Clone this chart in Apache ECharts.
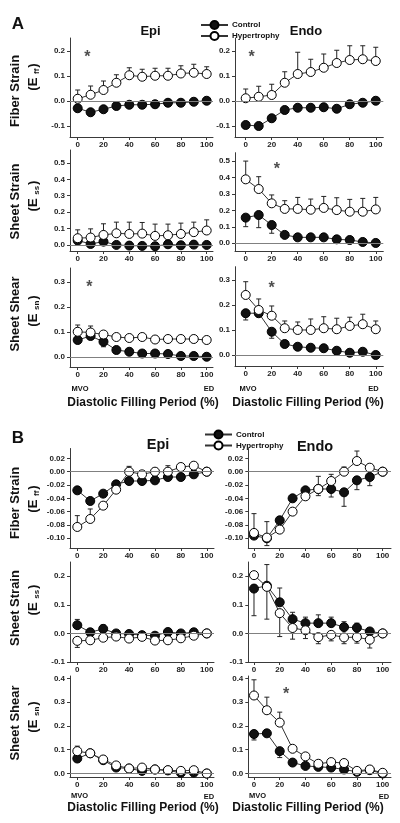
<!DOCTYPE html>
<html><head><meta charset="utf-8">
<script src="https://cdn.jsdelivr.net/npm/echarts/dist/echarts.min.js"></script>
<style>html,body{margin:0;padding:0;background:#fff}#c{width:400px;height:823px}</style>
</head><body><div id="c"></div>
<script>
// ---------- DATA ----------
const xPct = [0,10,20,30,40,50,60,70,80,90,100];
const xTickVals = [0,20,40,60,80,100];
const yTicksA1 = [-0.1,0,0.1,0.2];
const yTicksA2 = [0,0.1,0.2,0.3,0.4,0.5];
const yTicksA3 = [0,0.1,0.2,0.3];
const yTicksB1 = [-0.1,-0.08,-0.06,-0.04,-0.02,0,0.02];
const yTicksB2 = [-0.1,0,0.1,0.2];
const yTicksB3 = [0,0.1,0.2,0.3,0.4];

// Panel A - Fiber strain
const aFfEpiCtrl = [-0.029,-0.045,-0.033,-0.020,-0.015,-0.015,-0.013,-0.007,-0.007,-0.003,0.001];
const aFfEpiHyp  = [0.009,0.025,0.044,0.073,0.103,0.097,0.101,0.101,0.110,0.113,0.108];
const aFfEpiHypUp = [0.035,0.035,0.036,0.032,0.030,0.030,0.030,0.030,0.031,0.034,0.029];
const aFfEpiStar = [7.5,0.19];
const aFfEndoCtrl = [-0.096,-0.100,-0.069,-0.036,-0.027,-0.027,-0.025,-0.031,-0.013,-0.007,0.001];
const aFfEndoCtrlDn = [0,0,0.010,0,0,0,0,0.012,0,0,0];
const aFfEndoHyp  = [0.011,0.017,0.024,0.073,0.108,0.116,0.133,0.152,0.164,0.167,0.160];
const aFfEndoHypUp = [0.037,0.042,0.043,0.044,0.087,0.051,0.055,0.051,0.057,0.054,0.055];
const aFfEndoStar = [4.6,0.19];
// Panel A - Sheet strain
const aSsEpiCtrl = [0.027,0.006,0.020,0.000,-0.004,-0.006,-0.008,0.004,-0.002,0.002,0.000];
const aSsEpiHyp  = [0.041,0.045,0.061,0.071,0.067,0.069,0.055,0.059,0.067,0.078,0.088];
const aSsEpiHypUp = [0.051,0.053,0.068,0.068,0.072,0.068,0.072,0.068,0.066,0.061,0.065];
const aSsEndoCtrl = [0.156,0.172,0.111,0.051,0.036,0.036,0.036,0.024,0.020,0.008,0.002];
const aSsEndoCtrlDn = [0.055,0.077,0.050,0,0,0,0,0,0,0,0];
const aSsEndoHyp  = [0.389,0.330,0.243,0.209,0.209,0.204,0.215,0.202,0.192,0.192,0.206];
const aSsEndoHypUp = [0.111,0.075,0.051,0.050,0.070,0.065,0.070,0.075,0.075,0.081,0.073];
const aSsEndoStar = [24,0.475];
// Panel A - Sheet shear
const aSnEpiCtrl = [0.067,0.083,0.060,0.027,0.020,0.013,0.013,0.011,0.003,0.003,0.000];
const aSnEpiCtrlDn = [0.014,0,0.020,0,0,0,0,0,0,0,0];
const aSnEpiHyp  = [0.100,0.097,0.089,0.079,0.075,0.079,0.069,0.071,0.071,0.071,0.067];
const aSnEpiHypUp = [0.027,0.026,0.011,0,0,0,0,0,0,0,0];
const aSnEpiStar = [9,0.293];
const aSnEndoCtrl = [0.167,0.167,0.093,0.044,0.033,0.029,0.027,0.017,0.009,0.013,0.000];
const aSnEndoCtrlDn = [0.027,0.012,0.026,0,0,0,0,0,0,0,0];
const aSnEndoHyp  = [0.240,0.180,0.157,0.107,0.100,0.100,0.107,0.103,0.116,0.123,0.103];
const aSnEndoHypUp = [0.053,0.044,0.039,0.029,0.032,0.044,0.046,0.044,0.035,0.040,0.033];
const aSnEndoStar = [20,0.28];

// Panel B - Fiber strain
const bFfEpiCtrl = [-0.028,-0.044,-0.033,-0.019,-0.014,-0.014,-0.013,-0.008,-0.008,-0.004,0.000];
const bFfEpiHyp  = [-0.083,-0.071,-0.051,-0.027,0.000,-0.004,0.000,0.000,0.007,0.009,0.000];
const bFfEpiHypUp = [0.017,0.015,0,0,0.008,0.004,0.005,0.009,0.003,0.004,0];
const bFfEndoCtrl = [-0.096,-0.100,-0.073,-0.040,-0.028,-0.026,-0.026,-0.031,-0.013,-0.008,0.000];
const bFfEndoCtrlDn = [0,0.011,0,0.005,0,0.010,0.012,0.021,0.014,0.013,0];
const bFfEndoHyp  = [-0.092,-0.099,-0.087,-0.060,-0.037,-0.026,-0.014,0.000,0.016,0.006,0.000];
const bFfEndoHypUp = [0.029,0.024,0,0,0,0.019,0.010,0.007,0.015,0,0];
// Panel B - Sheet strain
const bSsEpiCtrl = [0.029,0.004,0.016,0.000,-0.002,-0.006,-0.008,0.005,0.000,0.004,0.000];
const bSsEpiCtrlUp = [0.020,0,0.013,0,0,0,0,0,0,0,0];
const bSsEpiHyp  = [-0.026,-0.024,-0.015,-0.011,-0.018,-0.012,-0.025,-0.024,-0.017,-0.008,0.000];
const bSsEpiHypDn = [0.023,0,0,0,0,0,0,0,0,0,0];
const bSsEndoCtrl = [0.157,0.167,0.109,0.050,0.036,0.036,0.036,0.022,0.020,0.007,0.000];
const bSsEndoCtrlUp = [0,0.074,0.050,0.024,0.021,0.029,0.021,0.019,0.016,0,0];
const bSsEndoCtrlDn = [0.095,0,0,0,0,0,0,0,0,0,0];
const bSsEndoHyp  = [0.204,0.163,0.071,0.019,0.011,-0.013,-0.005,-0.014,-0.013,-0.022,0.000];
const bSsEndoHypDn = [0,0.113,0.082,0.039,0.029,0.023,0.021,0.022,0.021,0.029,0];
// Panel B - Sheet shear
const bSnEpiCtrl = [0.063,0.085,0.056,0.025,0.021,0.011,0.017,0.013,0.003,0.004,0.000];
const bSnEpiHyp  = [0.094,0.085,0.059,0.034,0.021,0.025,0.017,0.014,0.011,0.014,0.000];
const bSnEpiHypUp = [0.021,0,0,0,0,0,0,0,0,0,0];
const bSnEndoCtrl = [0.166,0.169,0.094,0.046,0.032,0.028,0.025,0.017,0.007,0.014,0.000];
const bSnEndoCtrlDn = [0.025,0,0.027,0,0,0,0,0,0,0,0];
const bSnEndoHyp  = [0.328,0.266,0.214,0.104,0.072,0.041,0.048,0.044,0.011,0.017,0.003];
const bSnEndoHypUp = [0.066,0.055,0.044,0,0,0,0,0,0,0,0];
const bSnEndoStar = [25,0.35];

// ---------- LAYOUT ----------
const FONT = 'Liberation Sans, Arial, sans-serif';
const panels = [
 {g:{left:70,top:38,width:143,height:99}, x:[-5.97,104.9], y:[-0.144,0.252], yt:yTicksA1, dec:1, c:aFfEpiCtrl, h:aFfEpiHyp, hUp:aFfEpiHypUp, star:aFfEpiStar},
 {g:{left:235,top:38,width:148.3,height:99}, x:[-8.23,105.8], y:[-0.144,0.252], yt:yTicksA1, dec:1, c:aFfEndoCtrl, cDn:aFfEndoCtrlDn, h:aFfEndoHyp, hUp:aFfEndoHypUp, star:aFfEndoStar},
 {g:{left:70,top:150,width:143,height:101}, x:[-5.97,104.9], y:[-0.037,0.579], yt:yTicksA2, dec:1, c:aSsEpiCtrl, h:aSsEpiHyp, hUp:aSsEpiHypUp},
 {g:{left:235,top:152.7,width:148.3,height:98.3}, x:[-8.23,105.8], y:[-0.047,0.551], yt:yTicksA2, dec:1, c:aSsEndoCtrl, cDn:aSsEndoCtrlDn, h:aSsEndoHyp, hUp:aSsEndoHypUp, star:aSsEndoStar},
 {g:{left:70,top:268,width:143,height:99}, x:[-5.97,104.9], y:[-0.041,0.355], yt:yTicksA3, dec:1, c:aSnEpiCtrl, cDn:aSnEpiCtrlDn, h:aSnEpiHyp, hUp:aSnEpiHypUp, star:aSnEpiStar},
 {g:{left:235,top:266.7,width:148.3,height:99.3}, x:[-8.23,105.8], y:[-0.044,0.353], yt:yTicksA3, dec:1, c:aSnEndoCtrl, cDn:aSnEndoCtrlDn, h:aSnEndoHyp, hUp:aSnEndoHypUp, star:aSnEndoStar},
 {g:{left:70,top:448.5,width:144,height:99.5}, x:[-5.64,105.6], y:[-0.1146,0.0348], yt:yTicksB1, dec:2, c:bFfEpiCtrl, h:bFfEpiHyp, hUp:bFfEpiHypUp},
 {g:{left:248.3,top:448.5,width:142.7,height:99.5}, x:[-4.43,106.5], y:[-0.1146,0.0348], yt:yTicksB1, dec:2, c:bFfEndoCtrl, cDn:bFfEndoCtrlDn, h:bFfEndoHyp, hUp:bFfEndoHypUp},
 {g:{left:70,top:562,width:144,height:100}, x:[-5.64,105.6], y:[-0.1,0.25], yt:yTicksB2, dec:1, c:bSsEpiCtrl, cUp:bSsEpiCtrlUp, h:bSsEpiHyp, hDn:bSsEpiHypDn},
 {g:{left:248.3,top:562,width:142.7,height:100}, x:[-4.43,106.5], y:[-0.1,0.25], yt:yTicksB2, dec:1, c:bSsEndoCtrl, cUp:bSsEndoCtrlUp, cDn:bSsEndoCtrlDn, h:bSsEndoHyp, hDn:bSsEndoHypDn},
 {g:{left:70,top:676,width:144,height:101}, x:[-5.64,105.6], y:[-0.0147,0.41], yt:yTicksB3, dec:1, c:bSnEpiCtrl, h:bSnEpiHyp, hUp:bSnEpiHypUp},
 {g:{left:248.3,top:676,width:142.7,height:101}, x:[-4.43,106.5], y:[-0.0147,0.41], yt:yTicksB3, dec:1, c:bSnEndoCtrl, cDn:bSnEndoCtrlDn, h:bSnEndoHyp, hUp:bSnEndoHypUp, star:bSnEndoStar}
];

const axisColor = '#3a3a3a';
const lblStyle = {fontSize:8, fontWeight:'bold', color:'#222', fontFamily:FONT};
const grid=[], xAxis=[], yAxis=[], series=[];

function errSeries(i, vals, up, dn){
  const d=[];
  vals.forEach((v,k)=>{
    if(up && up[k]) d.push([xPct[k], v, v+up[k]]);
    if(dn && dn[k]) d.push([xPct[k], v, v-dn[k]]);
  });
  return {type:'custom', xAxisIndex:i, yAxisIndex:i, data:d, z:1, silent:true, animation:false,
    encode:{x:0, y:[1,2]},
    renderItem:function(params, api){
      const p0 = api.coord([api.value(0), api.value(1)]);
      const p1 = api.coord([api.value(0), api.value(2)]);
      const w = 2.5;
      return {type:'group', children:[
        {type:'line', shape:{x1:p0[0],y1:p0[1],x2:p1[0],y2:p1[1]}, style:{stroke:'#222',lineWidth:1}},
        {type:'line', shape:{x1:p1[0]-w,y1:p1[1],x2:p1[0]+w,y2:p1[1]}, style:{stroke:'#222',lineWidth:1}}
      ]};
    }};
}

panels.forEach((p,i)=>{
  grid.push(Object.assign({containLabel:false}, p.g));
  xAxis.push({type:'value', gridIndex:i, min:p.x[0], max:p.x[1],
    axisLine:{show:true, onZero:false, lineStyle:{color:axisColor, width:1}},
    axisTick:{show:true, length:3, customValues:xTickVals, lineStyle:{color:axisColor}},
    axisLabel:{customValues:xTickVals, margin:4, ...lblStyle, formatter:v=>String(v)},
    splitLine:{show:false}});
  yAxis.push({type:'value', gridIndex:i, min:p.y[0], max:p.y[1],
    axisLine:{show:true, onZero:false, lineStyle:{color:axisColor, width:1}},
    axisTick:{show:true, length:3, customValues:p.yt, lineStyle:{color:axisColor}},
    axisLabel:{customValues:p.yt, margin:5, ...lblStyle, formatter:v=>Number(v).toFixed(p.dec)},
    splitLine:{show:false}});
  // zero reference line
  series.push({type:'line', xAxisIndex:i, yAxisIndex:i, data:[], z:0, silent:true,
    markLine:{silent:true, symbol:['none','none'], label:{show:false}, animation:false,
      lineStyle:{color:'#808080', width:1, type:'solid'}, data:[{yAxis:0}]}});
  series.push(errSeries(i, p.c, p.cUp, p.cDn));
  series.push(errSeries(i, p.h, p.hUp, p.hDn));
  series.push({type:'line', name:'Control', xAxisIndex:i, yAxisIndex:i,
    data:xPct.map((x,k)=>[x,p.c[k]]), symbol:'circle', symbolSize:9, showAllSymbol:true,
    lineStyle:{color:'#333', width:1}, itemStyle:{color:'#111', borderColor:'#000', borderWidth:1}, z:3, animation:false});
  series.push({type:'line', name:'Hypertrophy', xAxisIndex:i, yAxisIndex:i,
    data:xPct.map((x,k)=>[x,p.h[k]]), symbol:'circle', symbolSize:9, showAllSymbol:true,
    lineStyle:{color:'#333', width:1}, itemStyle:{color:'#fff', borderColor:'#000', borderWidth:1}, z:4, animation:false});
  if(p.star){
    series.push({type:'scatter', xAxisIndex:i, yAxisIndex:i, data:[p.star], symbolSize:1,
      itemStyle:{color:'rgba(0,0,0,0)'}, silent:true, z:5, animation:false,
      label:{show:true, position:'inside', formatter:'*', fontSize:16, fontWeight:'bold', color:'#222', fontFamily:FONT, offset:[0,4]}});
  }
});

function txt(x,y,text,size,extra){
  return Object.assign({type:'text', x:x, y:y, silent:true,
    style:{text:text, fill:'#111', font:'bold '+size+'px '+FONT, align:'center', verticalAlign:'middle'}}, extra||{});
}
function vtxt(x,y,text,size){
  return {type:'text', x:x, y:y, rotation:Math.PI/2, silent:true,
    style:{text:text, fill:'#111', font:'bold '+size+'px '+FONT, align:'center', verticalAlign:'middle'}};
}
function vsub(x,y,sub){
  return {type:'text', x:x, y:y, rotation:Math.PI/2, silent:true,
    style:{text:'{a|(E }{s|'+sub+'}{a|)}', align:'center', verticalAlign:'middle', fill:'#111',
      rich:{a:{fontSize:13, fontWeight:'bold', fontFamily:FONT, fill:'#111', lineHeight:15},
            s:{fontSize:8, fontWeight:'bold', fontFamily:FONT, fill:'#111', lineHeight:15, verticalAlign:'bottom', padding:[6,1,0,0]}}}};
}

const graphic = [
  txt(18,24.5,'A',17), txt(18,438,'B',17),
  txt(150.5,31,'Epi',13), txt(306,31,'Endo',13),
  txt(158,445,'Epi',14.5), txt(315,447,'Endo',14.5),
  vtxt(15,91,'Fiber Strain',13), vsub(33,77,'ff'),
  vtxt(15,201.5,'Sheet Strain',13), vsub(33,196,'ss'),
  vtxt(15,314,'Sheet Shear',13), vsub(33,311,'sn'),
  vtxt(15,503,'Fiber Strain',13), vsub(33,499,'ff'),
  vtxt(15,608,'Sheet Strain',13), vsub(33,600,'ss'),
  vtxt(15,723,'Sheet Shear',13), vsub(33,717,'sn'),
  txt(80,388.5,'MVO',7.5), txt(209,389,'ED',7.5), txt(248,388.5,'MVO',7.5), txt(373.5,389,'ED',7.5),
  txt(79.5,795.5,'MVO',7.5), txt(209,797,'ED',7.5), txt(257.5,795.5,'MVO',7.5), txt(384,797,'ED',7.5),
  txt(143,402.5,'Diastolic Filling Period (%)',12), txt(308,402.5,'Diastolic Filling Period (%)',12),
  txt(143,808,'Diastolic Filling Period (%)',12), txt(308,808,'Diastolic Filling Period (%)',12)
];

const legendBase = {data:['Control','Hypertrophy'], orient:'vertical', itemWidth:27, itemHeight:10, itemGap:1,
  selectedMode:false, textStyle:{fontSize:8, fontWeight:'bold', color:'#111', fontFamily:FONT, padding:[0,0,0,-1]}};

const chart = echarts.init(document.getElementById('c'), null, {renderer:'canvas'});
chart.setOption({
  animation:false,
  backgroundColor:'#fff',
  legend:[Object.assign({left:195, top:15}, legendBase), Object.assign({left:199, top:424.5}, legendBase)],
  grid, xAxis, yAxis, series, graphic
});
</script></body></html>
